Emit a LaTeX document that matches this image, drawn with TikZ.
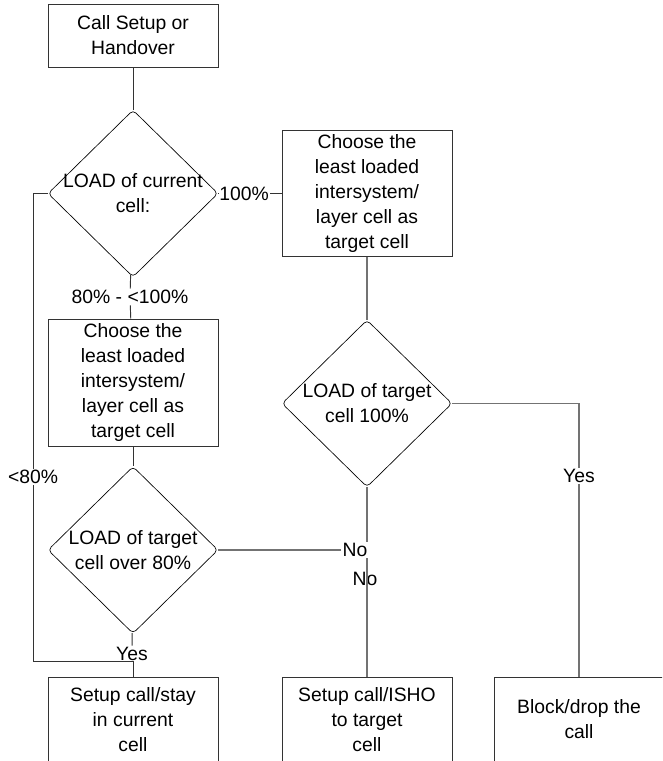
\documentclass[tikz,border=0pt]{standalone}
\usepackage{fontspec}
\setmainfont{Liberation Sans}
\usetikzlibrary{shapes.geometric}
\tikzset{
 box/.style={draw=black!80, line width=0.7pt, minimum width=127.5pt, align=center, inner sep=0pt},
 decision/.style={draw, diamond, minimum width=127.5pt, minimum height=125.25pt, inner sep=0pt, rounded corners=3pt, line width=0.5pt},
 link/.style={draw=black!80, line width=0.7pt},
 glink/.style={draw=black!55, line width=1.1pt},
 lbl/.style={inner sep=1pt},
}

\begin{document}
\begin{tikzpicture}[x=0.75pt,y=-0.75pt,font=\fontsize{14.5}{18.75}\selectfont]
\clip (0,0) rectangle (662,761);
% boxes and decisions
\node[box, minimum height=47.25pt] (start) at (133,35.5) {Call Setup or\\Handover};
\node[decision, label={[align=center]center:LOAD of current\\cell:}] (cur) at (133,193.5) {};
\node[box, minimum height=94.5pt] (pickr) at (367,193.5) {Choose the\\least loaded\\intersystem/\\layer cell as\\target cell};
\node[decision, label={[align=center]center:LOAD of target\\cell 100\%}] (tgtr) at (367,403.5) {};
\node[box, minimum height=95.25pt] (pickl) at (133,382.5) {Choose the\\least loaded\\intersystem/\\layer cell as\\target cell};
\node[decision, label={[align=center]center:LOAD of target\\cell over 80\%}] (tgtl) at (133,550) {};
\node[box, minimum height=63.75pt] (stay) at (133,719.5) {Setup call/stay\\in current\\cell};
\node[box, minimum height=63.75pt] (isho) at (367,719.5) {Setup call/ISHO\\to target\\cell};
\node[box, minimum height=63.75pt] (block) at (579,719.5) {Block/drop the\\call};
% branch labels
\node[lbl] (p100) at (244,193.5) {100\%};
\node[lbl] (p80) at (130,297) {80\% - <100\%};
\node[lbl] (lt80) at (33,477) {<80\%};
\node[lbl] (yesr) at (579,476) {Yes};
\node[lbl] (nol) at (355,550) {No};
\node[lbl] (nod) at (365,579) {No};
\node[lbl] (yesl) at (132,654) {Yes};
\coordinate (join) at (133,661);
% connectors
\draw[link] (start) -- (cur);
\draw[link] (cur) -- (p100) -- (pickr);
\draw[glink] (pickr) -- (tgtr);
\draw[link] (cur) -- (p80) -- (pickl);
\draw[link] (pickl) -- (tgtl);
\draw[link] (cur.west) -| (lt80);
\draw[link] (lt80) |- (join);
\draw[link] (tgtl) -- (yesl);
\draw[link] (join) -- (stay);
\draw[glink] (tgtl.east) -- (nol.west);
\draw[glink] (tgtr) -- (tgtr.south |- nol.north);
\draw[glink] (tgtr.south |- nol.south) -- (isho);
\draw[glink] (tgtr) -| (yesr);
\draw[glink] (yesr) -- (block);
\end{tikzpicture}
\end{document}
